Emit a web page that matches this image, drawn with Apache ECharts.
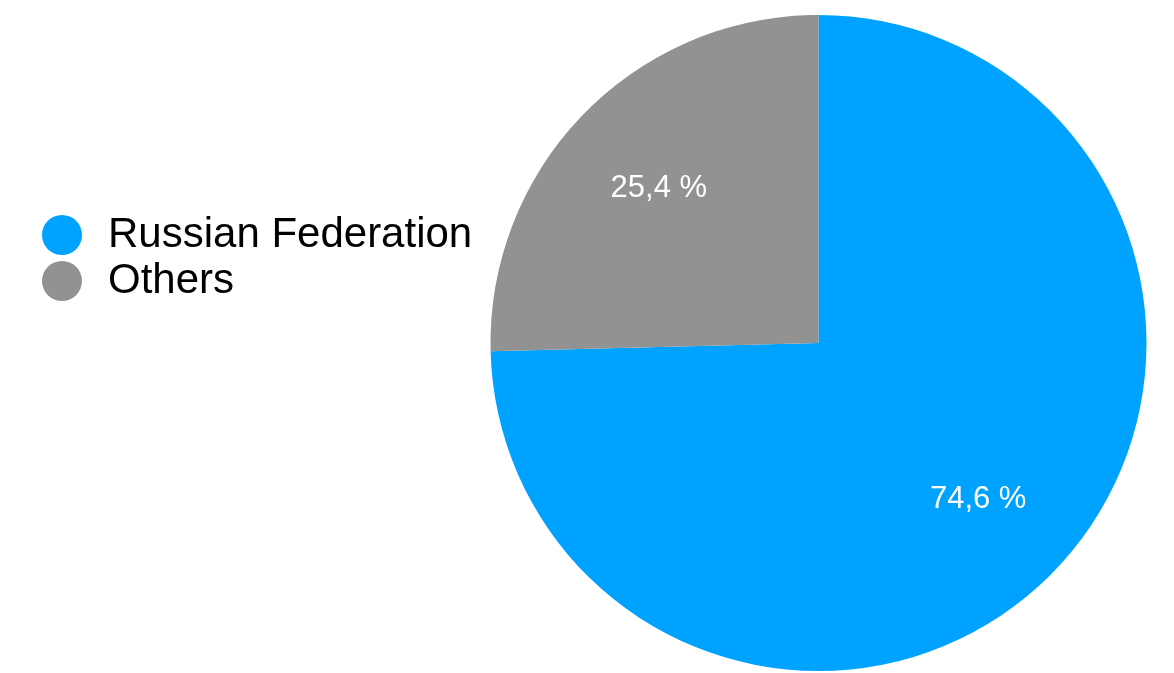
<!DOCTYPE html>
<html>
<head>
<meta charset="utf-8">
<script src="https://cdn.jsdelivr.net/npm/echarts@6/dist/echarts.min.js"></script>
<style>html,body{margin:0;padding:0;background:#fff}#c{width:1174px;height:673px}</style>
</head>
<body>
<div id="c"></div>
<script>
const categories = ['Russian Federation', 'Others'];
const values = [74.6, 25.4];
const colors = ['#00A2FF', '#929292'];

const font = '"Liberation Sans", Arial, Helvetica, sans-serif';
const chart = echarts.init(document.getElementById('c'));
const mainData = categories.map((n, i) => ({ name: n, value: values[i], itemStyle: { color: colors[i] } }));
const labelData = categories.map((n, i) => ({ name: 'lbl_' + i, value: values[i] }));

chart.setOption({
  animation: false,
  legend: {
    orient: 'vertical',
    left: 37,
    top: 207,
    icon: 'circle',
    itemWidth: 40,
    itemHeight: 40,
    itemGap: 0,
    data: categories,
    textStyle: { fontFamily: font, fontSize: 42, color: '#000', lineHeight: 46, padding: [0, 0, 0, 21] }
  },
  series: [
    {
      type: 'pie',
      center: [818.5, 343],
      radius: 328,
      startAngle: 90,
      clockwise: true,
      label: { show: false },
      labelLine: { show: false },
      emphasis: { disabled: true },
      data: mainData
    },
    {
      type: 'pie',
      center: [818.5, 344],
      radius: 440,
      startAngle: 90,
      clockwise: true,
      silent: true,
      itemStyle: { color: 'rgba(0,0,0,0)' },
      label: {
        show: true,
        position: 'inside',
        color: '#fff',
        fontFamily: font,
        fontSize: 31,
        formatter: p => p.value.toFixed(1).replace('.', ',') + ' %'
      },
      labelLine: { show: false },
      emphasis: { disabled: true },
      data: labelData
    }
  ]
});
</script>
</body>
</html>
